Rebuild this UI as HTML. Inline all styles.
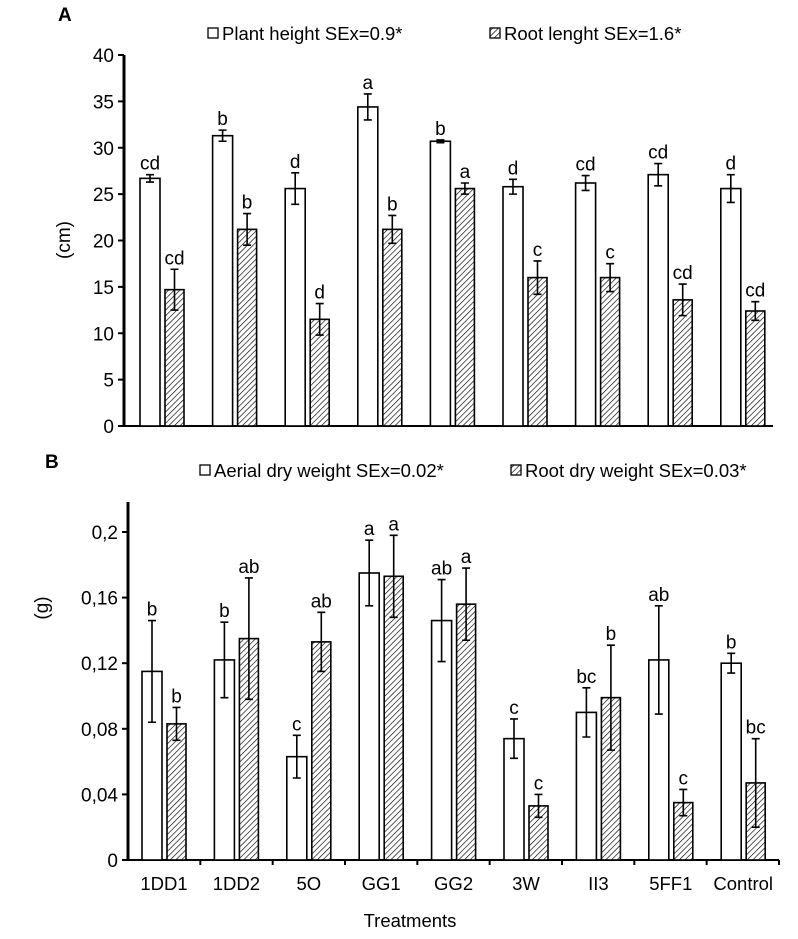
<!DOCTYPE html>
<html><head><meta charset="utf-8"><style>
body{margin:0;background:#fff;}
svg{display:block;font-family:"Liberation Sans",Arial,sans-serif;}
</style></head><body>
<svg id="c" width="798" height="939" viewBox="0 0 798 939">
<defs>
<pattern id="hatch" patternUnits="userSpaceOnUse" width="4" height="4" patternTransform="rotate(45)">
<rect width="4" height="4" fill="#fff"/><line x1="0" y1="0" x2="0" y2="4" stroke="#000" stroke-width="1.3"/>
</pattern>
</defs>
</svg>
<script>
const categories=["1DD1","1DD2","5O","GG1","GG2","3W","II3","5FF1","Control"];
const plantHeight=[26.7,31.3,25.6,34.4,30.7,25.8,26.2,27.1,25.6];
const plantHeightErr=[0.4,0.6,1.7,1.4,0.15,0.8,0.8,1.2,1.5];
const plantHeightLetters=["cd","b","d","a","b","d","cd","cd","d"];
const rootLength=[14.7,21.2,11.5,21.2,25.6,16.0,16.0,13.6,12.4];
const rootLengthErr=[2.2,1.7,1.7,1.5,0.6,1.8,1.5,1.7,1.0];
const rootLengthLetters=["cd","b","d","b","a","c","c","cd","cd"];
const aerialDW=[0.115,0.122,0.063,0.175,0.146,0.074,0.090,0.122,0.120];
const aerialDWErr=[0.031,0.023,0.013,0.020,0.025,0.012,0.015,0.033,0.006];
const aerialDWLetters=["b","b","c","a","ab","c","bc","ab","b"];
const rootDW=[0.083,0.135,0.133,0.173,0.156,0.033,0.099,0.035,0.047];
const rootDWErr=[0.010,0.037,0.018,0.025,0.022,0.007,0.032,0.008,0.027];
const rootDWLetters=["b","ab","ab","a","a","c","b","c","bc"];
const ticksA=[0,5,10,15,20,25,30,35,40];
const ticksB=[0,0.04,0.08,0.12,0.16,0.2];
const ticksBLabels=["0","0,04","0,08","0,12","0,16","0,2"];

const svg=document.getElementById('c');
const NS="http://www.w3.org/2000/svg";
function mk(tag,attrs,parent){const e=document.createElementNS(NS,tag);for(const k in attrs)e.setAttribute(k,attrs[k]);(parent||svg).appendChild(e);return e;}
function txt(x,y,s,size,anchor,parent,extra){const t=mk('text',Object.assign({x:x,y:y,'font-size':size,'text-anchor':anchor||'middle',fill:'#000'},extra||{}),parent);t.textContent=s;return t;}

function panel(cfg){
  const g=mk('g',{});
  
  
  const y=v=>cfg.y0-(v/cfg.max)*(cfg.y0-cfg.yTop);
  const xW=i=>cfg.x0+cfg.step*i;
  const ya=mk('line',{x1:cfg.ax,y1:cfg.axTop,x2:cfg.ax,y2:cfg.y0,stroke:'#000','stroke-width':3},g);
  
  const xa=mk('line',{x1:cfg.ax,y1:cfg.y0,x2:cfg.axRight,y2:cfg.y0,stroke:'#000','stroke-width':2},g);
  
  cfg.ticks.forEach((v,i)=>{
    mk('line',{x1:cfg.ax-6,y1:y(v),x2:cfg.ax,y2:y(v),stroke:'#000','stroke-width':2},g);
    const t=txt(cfg.ax-10,y(v)+7,cfg.tickLabels[i],19,'end',g);
    
  });
  if(cfg.xTicks){for(let i=1;i<=9;i++){const xx=cfg.ax+(cfg.axRight-cfg.ax)*i/9;mk('line',{x1:xx,y1:cfg.y0,x2:xx,y2:cfg.y0+5,stroke:'#000','stroke-width':2},g);}}
  cfg.series.forEach((s,si)=>{
    s.vals.forEach((v,i)=>{
      const bx=xW(i)+(si?25:0), w=si?19:20;
      const r=mk('rect',{x:bx,y:y(v),width:w,height:cfg.y0-y(v),fill:si?'url(#hatch)':'#fff',stroke:'#000','stroke-width':1.6},g);
      
      
      const cx=bx+w/2, hi=y(v+s.err[i]), lo=y(v-s.err[i]);
      mk('path',{d:`M${cx},${hi}V${lo}M${cx-4},${hi}H${cx+4}M${cx-4},${lo}H${cx+4}`,stroke:'#000','stroke-width':1.6,fill:'none'},g);
      const t=txt(cx,hi-5,s.letters[i],19,'middle',g);
      
    });
  });
  if(cfg.catLabels){categories.forEach((c,i)=>{const t=txt(xW(i)+22,890,c,18.5,'middle',g);});}
}
panel({name:'panel-a',ax:124,axTop:55,axRight:773,y0:426,yTop:55,max:40,x0:140,step:72.6,ticks:ticksA,tickLabels:ticksA.map(String),
 series:[{key:'plant-height',vals:plantHeight,err:plantHeightErr,letters:plantHeightLetters},{key:'root-length',vals:rootLength,err:rootLengthErr,letters:rootLengthLetters}]});
panel({name:'panel-b',ax:128,axTop:502,axRight:779,y0:860,yTop:532,max:0.2,x0:142,step:72.4,ticks:ticksB,tickLabels:ticksBLabels,xTicks:true,catLabels:true,
 series:[{key:'aerial-dw',vals:aerialDW,err:aerialDWErr,letters:aerialDWLetters},{key:'root-dw',vals:rootDW,err:rootDWErr,letters:rootDWLetters}]});

let t;
t=txt(58,21,'A',19,'start',null,{'font-weight':'bold'});
t=txt(45,468,'B',19,'start',null,{'font-weight':'bold'});
t=txt(0,0,'(cm)',19,'middle',null,{transform:'translate(70,240) rotate(-90)'});
t=txt(0,0,'(g)',19,'middle',null,{transform:'translate(48,608) rotate(-90)'});
t=txt(410,927,'Treatments',18.5,'middle');
function legend(x,y,label,h,name){
  const r=mk('rect',{x:x,y:y-12,width:10,height:10,fill:h?'url(#hatch)':'#fff',stroke:'#000','stroke-width':1.3});
  
  const t=txt(x+14,y,label,18.5,'start');
}
legend(208,40,'Plant height SEx=0.9*',false,'legend-plant-height');
legend(490,40,'Root lenght SEx=1.6*',true,'legend-root-length');
legend(200,477,'Aerial dry weight SEx=0.02*',false,'legend-aerial-dry-weight');
legend(511,477,'Root dry weight SEx=0.03*',true,'legend-root-dry-weight');
</script>
</body></html>
